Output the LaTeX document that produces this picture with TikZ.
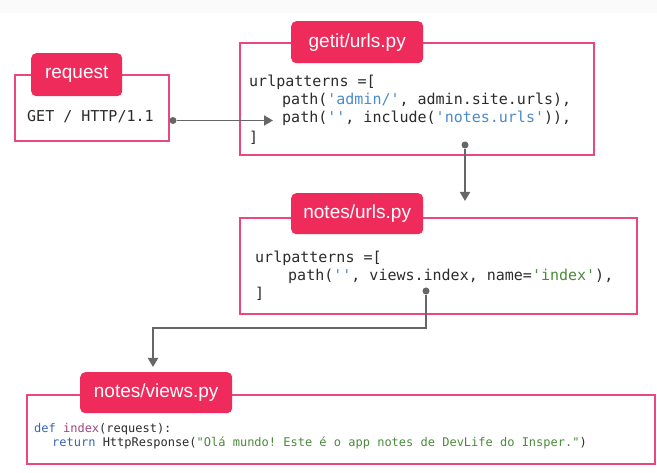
\documentclass[tikz,border=0pt]{standalone}
\usepackage{fontspec}
\setmainfont{Liberation Sans}
\setmonofont{DejaVu Sans Mono}
\usetikzlibrary{arrows.meta}
\definecolor{tabred}{HTML}{EF2B5C}
\definecolor{boxline}{HTML}{E8497A}
\definecolor{conncol}{HTML}{666666}
\definecolor{codetxt}{HTML}{2B2B2B}
\definecolor{strblue}{HTML}{4A8BC9}
\definecolor{strgreen}{HTML}{4A8A3A}
\definecolor{kwblue}{HTML}{3465B5}
\definecolor{fnpurple}{HTML}{A0447F}
\begin{document}
\begin{tikzpicture}[x=1pt,y=-1pt,
  frame/.style={draw=boxline, line width=2pt, anchor=north west, inner sep=0pt},
  tab/.style={fill=tabred, rounded corners=5pt, text=white, anchor=north west, inner sep=0pt,
    font=\fontsize{19}{19}\selectfont},
  code/.style={font=\ttfamily\fontsize{15}{18}\selectfont, text=codetxt, anchor=base west, inner sep=0pt},
  smallcode/.style={font=\ttfamily\fontsize{12}{14}\selectfont, text=codetxt, anchor=base west, inner sep=0pt},
  dot/.style={circle, fill=conncol, minimum size=7pt, inner sep=0pt},
  conn/.style={draw=conncol, line width=1.8pt, -{Triangle[length=9pt,width=10pt]}}
]
\useasboundingbox (0,0) rectangle (657,473);
\fill[gray!4] (0,0) rectangle (657,13);

% request
\node[frame, minimum width=154pt, minimum height=66pt] (reqframe) at (14,74) {};
\node[tab, minimum width=91pt, minimum height=43pt] (reqtab) at (31,53) {request};
\node[code] (reqcode) at (27,122) {GET / HTTP/1.1};

% getit/urls.py
\node[frame, minimum width=354pt, minimum height=112pt] (getframe) at (239,42) {};
\node[tab, minimum width=132pt, minimum height=42pt] (gettab) at (291,21) {getit/urls.py};
\node[code] (getl1) at (249,87) {urlpatterns =[};
\node[code] (getl2) at (282,105) {path({\color{strblue}'admin/'}, admin.site.urls),};
\node[code] (getl3) at (282,123) {path({\color{strblue}''}, include({\color{strblue}'notes.urls'})),};
\node[code] (getl4) at (249,143) {]};

% notes/urls.py
\node[frame, minimum width=397pt, minimum height=96pt] (notesframe) at (239,217) {};
\node[tab, minimum width=132pt, minimum height=41pt] (notestab) at (291,193) {notes/urls.py};
\node[code] (notesl1) at (255,263) {urlpatterns =[};
\node[code] (notesl2) at (288,281) {path({\color{strblue}''}, views.index, name={\color{strgreen}'index'}),};
\node[code] (notesl3) at (255,299) {]};

% notes/views.py
\node[frame, minimum width=628pt, minimum height=69pt] (viewsframe) at (26,394) {};
\node[tab, minimum width=152pt, minimum height=41pt] (viewstab) at (80,372) {notes/views.py};
\node[smallcode] (viewsl1) at (34,433) {{\color{kwblue}def} {\color{fnpurple}index}(request):};
\node[smallcode] (viewsl2) at (52,447) {{\color{kwblue}return} HttpResponse({\color{strgreen}"Olá mundo! Este é o app notes de DevLife do Insper."})};

% connectors
\node[dot] (reqdot) at (173,120.5) {};
\coordinate (getin) at (273,120.5);
\draw[conn] (reqdot) -- (getin);

\node[dot] (getdot) at (465,145) {};
\coordinate (notesin) at (465,201);
\draw[conn] (getdot) -- (notesin);

\node[dot] (notesdot) at (426,291) {};
\coordinate (bend) at (153,328);
\coordinate (viewsin) at (153,367);
\draw[conn] (notesdot) |- (bend) -- (viewsin);
\end{tikzpicture}
\end{document}
